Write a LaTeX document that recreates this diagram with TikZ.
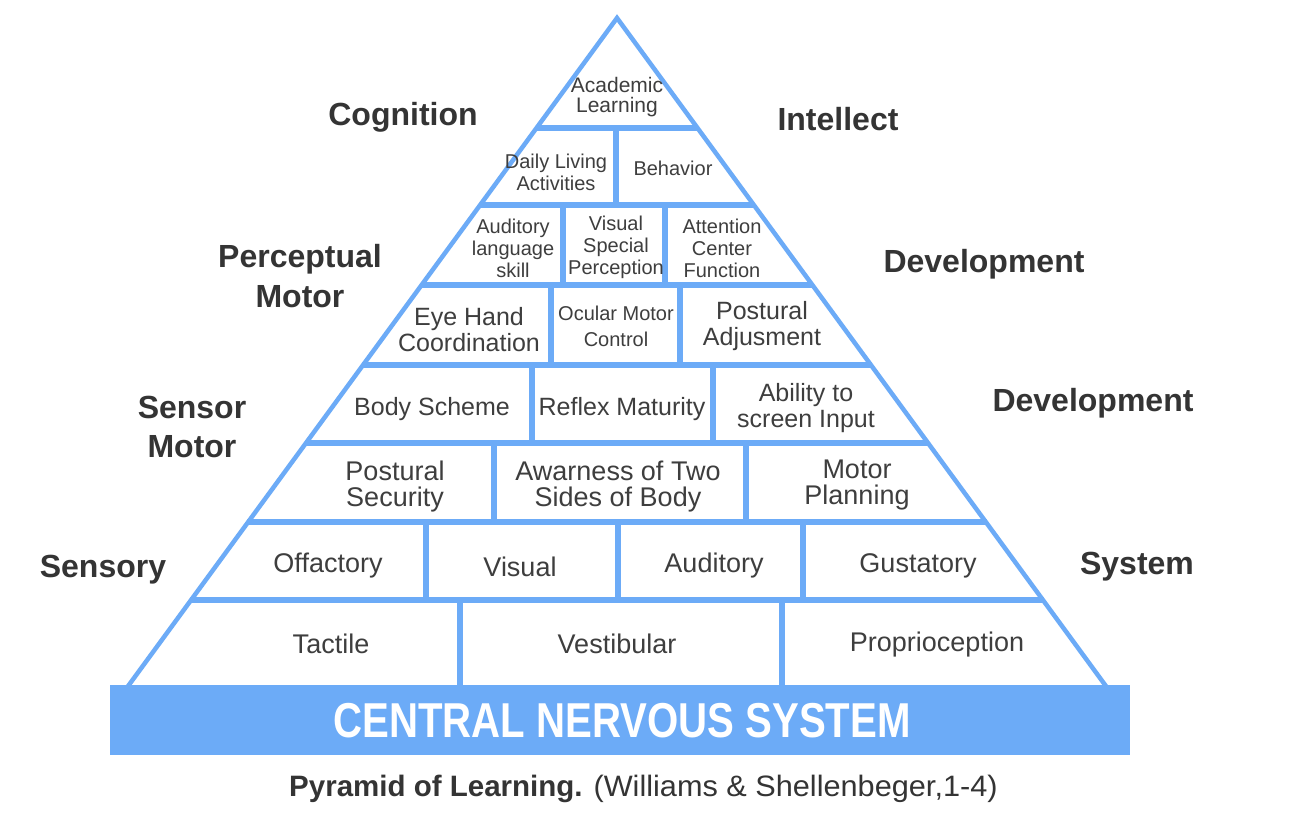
\documentclass[tikz,border=0pt]{standalone}
\usepackage{fontspec}
\setmainfont{Liberation Sans}
\definecolor{pblue}{RGB}{108,171,247}
\definecolor{ptext}{RGB}{62,62,62}
\definecolor{plabel}{RGB}{52,52,52}
\begin{document}
\begin{tikzpicture}[x=1pt,y=-1pt,
  outline/.style={draw=pblue,line width=4.5pt,line join=miter},
  hline/.style={draw=pblue,line width=6.5pt},
  vline/.style={draw=pblue,line width=6pt},
  cellL/.style={text=ptext,align=center,inner sep=0pt,font=\fontsize{27}{26}\selectfont},
  cellM/.style={text=ptext,align=center,inner sep=0pt,font=\fontsize{25}{26}\selectfont},
  cellS/.style={text=ptext,align=center,inner sep=0pt,font=\fontsize{20}{22}\selectfont},
  side/.style={text=plabel,align=center,inner sep=0pt,font=\bfseries\fontsize{32}{40}\selectfont},
]
\useasboundingbox (0,0) rectangle (1301,829);
\fill[white] (0,0) rectangle (1301,829);

% horizontal row lines
\foreach \yy in {128,205,285,365,443,522,600}{
  \draw[hline] ({617-0.734*(\yy-18)},\yy) -- ({617+0.734*(\yy-18)},\yy);
}
% vertical dividers
\draw[vline] (616,128) -- (616,205);
\draw[vline] (563,205) -- (563,285);
\draw[vline] (665,205) -- (665,285);
\draw[vline] (551,285) -- (551,365);
\draw[vline] (680,285) -- (680,365);
\draw[vline] (532,365) -- (532,443);
\draw[vline] (713,365) -- (713,443);
\draw[vline] (494,443) -- (494,522);
\draw[vline] (746,443) -- (746,522);
\draw[vline] (426,522) -- (426,600);
\draw[vline] (618,522) -- (618,600);
\draw[vline] (803,522) -- (803,600);
\draw[vline] (460,600) -- (460,685);
\draw[vline] (782,600) -- (782,685);

% pyramid outline
\draw[outline] ({617-0.734*667},687) -- (617,18) -- ({617+0.734*667},687);

% base band
\fill[pblue] (110,685) rectangle (1130,755);
\node[text=white,inner sep=0pt] (cns) at (622,721)
  {\scalebox{0.82}[1]{\bfseries\fontsize{49}{50}\selectfont CENTRAL NERVOUS SYSTEM}};

% cells
\node[cellS,font=\fontsize{21}{20}\selectfont] (acad) at (617,97) {Academic\\Learning};
\node[cellS] (daily) at (556,172) {Daily Living\\Activities};
\node[cellS] (behav) at (673,168) {Behavior};
\node[cellS] (audlang) at (513,248) {Auditory\\language\\skill};
\node[cellS] (visper) at (616,247) {Visual\\Special\\Perception};
\node[cellS] (attn) at (722,248) {Attention\\Center\\Function};
\node[cellM] (eyehand) at (469,330) {Eye Hand\\Coordination};
\node[cellS,font=\fontsize{20}{26}\selectfont] (ocular) at (616,326) {Ocular Motor\\Control};
\node[cellM] (postadj) at (762,326) {Postural\\Adjusment};
\node[cellM] (body) at (432,409) {Body Scheme};
\node[cellM] (reflex) at (622,409) {Reflex Maturity};
\node[cellM] (ability) at (806,408) {Ability to\\screen Input};
\node[cellL] (postsec) at (395,487) {Postural\\Security};
\node[cellL] (aware) at (618,487) {Awarness of Two\\Sides of Body};
\node[cellL] (motorpl) at (857,485) {Motor\\Planning};
\node[cellL] (offac) at (328,566) {Offactory};
\node[cellL] (visual) at (520,567) {Visual};
\node[cellL] (audit) at (714,566) {Auditory};
\node[cellL] (gust) at (918,566) {Gustatory};
\node[cellL] (tact) at (331,644) {Tactile};
\node[cellL] (vest) at (617,644) {Vestibular};
\node[cellL] (propr) at (937,645) {Proprioception};

% side labels
\node[side] (cog) at (403,117) {Cognition};
\node[side] (intel) at (838,119) {Intellect};
\node[side] (percm) at (300,276) {Perceptual\\Motor};
\node[side] (dev1) at (984,264) {Development};
\node[side,font=\bfseries\fontsize{32}{39}\selectfont] (sensm) at (192,427) {Sensor\\Motor};
\node[side] (dev2) at (1093,403) {Development};
\node[side] (sensy) at (103,570) {Sensory};
\node[side] (syst) at (1137,567) {System};

% caption
\node[text=plabel,inner sep=0pt,anchor=west,font=\fontsize{29.5}{30}\selectfont] (cap) at (289,789)
  {\textbf{Pyramid of Learning.} \scalebox{1.04}[1]{(Williams \& Shellenbeger,1-4)}};
\end{tikzpicture}
\end{document}
